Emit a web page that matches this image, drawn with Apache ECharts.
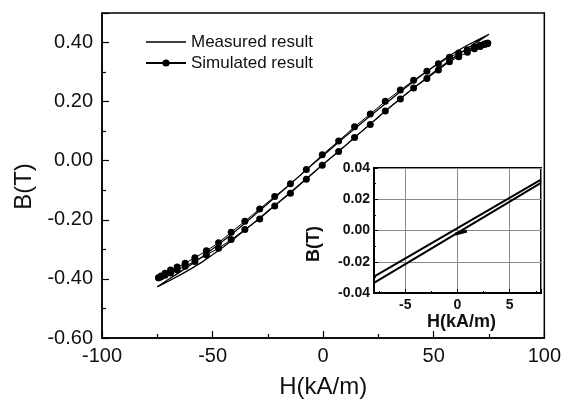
<!DOCTYPE html>
<html>
<head>
<meta charset="utf-8">
<script src="https://cdn.jsdelivr.net/npm/echarts@6/dist/echarts.min.js"></script>
<style>
  html, body { margin: 0; padding: 0; background: #fff; }
  #chart { width: 564px; height: 404px; }
</style>
</head>
<body>
<div id="chart"></div>
<script>
// main loop: measured (line only)
const measH = [-75, -70, -65, -60, -55, -50, -45, -40, -35, -30, -25, -20, -15, -10, -5, 0,
  5, 10, 15, 20, 25, 30, 35, 40, 45, 50, 55, 60, 65, 70, 75];
const measLow = [-0.427, -0.408, -0.388, -0.367, -0.344, -0.318, -0.291, -0.262, -0.232, -0.202,
  -0.170, -0.140, -0.108, -0.076, -0.044, -0.012, 0.019, 0.051, 0.084, 0.116, 0.148, 0.180,
  0.211, 0.241, 0.270, 0.299, 0.327, 0.354, 0.379, 0.404, 0.428];
const measUp = [-0.427, -0.402, -0.378, -0.353, -0.327, -0.299, -0.270, -0.240, -0.209, -0.177,
  -0.145, -0.113, -0.080, -0.047, -0.014, 0.018, 0.050, 0.082, 0.113, 0.144, 0.174, 0.204,
  0.234, 0.263, 0.292, 0.319, 0.345, 0.369, 0.390, 0.409, 0.428];

// main loop: simulated (line + dots)
const simH = [-74.4, -73.3, -71.5, -69.0, -66.0, -62.4, -58.0, -52.8, -47.3, -41.6, -35.4, -28.7,
  -21.9, -14.8, -7.6, -0.4, 7.0, 14.2, 21.3, 28.1, 34.9, 40.9, 46.9, 52.1, 57.1, 61.3, 65.2,
  68.4, 71.0, 72.9, 74.0, 74.4];
const simLow = [-0.396, -0.393, -0.388, -0.380, -0.370, -0.357, -0.341, -0.319, -0.296, -0.267,
  -0.233, -0.197, -0.153, -0.110, -0.063, -0.015, 0.031, 0.079, 0.123, 0.168, 0.209, 0.246,
  0.278, 0.307, 0.335, 0.352, 0.367, 0.379, 0.387, 0.393, 0.396, 0.398];
const simUp = [-0.396, -0.390, -0.381, -0.370, -0.360, -0.347, -0.328, -0.305, -0.278, -0.242,
  -0.205, -0.163, -0.121, -0.078, -0.030, 0.020, 0.067, 0.115, 0.158, 0.201, 0.239, 0.272,
  0.303, 0.328, 0.350, 0.365, 0.376, 0.386, 0.391, 0.395, 0.397, 0.398];

// inset (zoom around origin): two nearly parallel branches
const insetH = [-8, 0, 8];
const insetUp = [-0.0295, 0.0015, 0.0325];
const insetLow = [-0.0335, -0.0015, 0.0305];
const markH = [-0.2, 0.9];
const markB = [-0.0022, -0.0004];

const xTicks = [-100, -50, 0, 50, 100];
const yTicks = [-0.6, -0.4, -0.2, 0, 0.2, 0.4];

const FONT = "'Liberation Sans', Arial, sans-serif";
const INK = "#111";

const pairs = (xs, ys) => xs.map((x, i) => [x, ys[i]]);
// closed loop: ascending branch, then descending branch back
const loop = (xs, low, up) => pairs(xs, low).concat(pairs(xs, up).reverse());

const chart = echarts.init(document.getElementById("chart"));

const axisBase = {
  type: "value",
  splitLine: { show: false },
};

const option = {
  animation: false,
  backgroundColor: "#fff",
  textStyle: { fontFamily: FONT, color: INK },
  legend: {
    left: 145,
    top: 33,
    padding: 0,
    orient: "vertical",
    selectedMode: false,
    itemWidth: 40,
    itemHeight: 9,
    itemGap: 3,
    symbolKeepAspect: true,
    data: [
      { name: "Measured result", icon: "path://M0 0H40V1.3H0Z" },
      { name: "Simulated result" },
    ],
    textStyle: { fontFamily: FONT, fontSize: 17, color: INK, lineHeight: 18 },
  },
  grid: [
    {
      left: 102, top: 13, right: 19, bottom: 62,
      show: true, borderColor: "#000", borderWidth: 1.5, backgroundColor: "#fff",
    },
    {
      left: 374, top: 168, right: 23, bottom: 111,
      show: true, borderColor: "#000", borderWidth: 2, backgroundColor: "#fff",
    },
  ],
  xAxis: [
    {
      ...axisBase,
      gridIndex: 0,
      min: xTicks[0],
      max: xTicks[xTicks.length - 1],
      interval: 50,
      name: "H(kA/m)",
      nameLocation: "middle",
      nameGap: 37,
      nameTextStyle: { fontFamily: FONT, fontSize: 24, color: INK },
      axisLine: { show: true, onZero: false, lineStyle: { color: "#000", width: 1.5 } },
      axisTick: { inside: true, length: 7, lineStyle: { color: "#000", width: 1.2 } },
      minorTick: { show: true, splitNumber: 2, length: 4, lineStyle: { color: "#000", width: 1.2 } },
      axisLabel: { fontFamily: FONT, fontSize: 20, color: INK, margin: 8 },
    },
    {
      ...axisBase,
      gridIndex: 1,
      min: -8,
      max: 8,
      splitNumber: 3,
      name: "H(kA/m)",
      nameLocation: "middle",
      nameGap: 20,
      nameTextStyle: {
        fontFamily: FONT, fontSize: 18, fontWeight: "bold", color: INK, padding: [0, 0, 0, 8],
      },
      axisLine: { show: true, onZero: false, lineStyle: { color: "#000", width: 2 } },
      axisTick: { inside: true, length: 4, lineStyle: { color: "#000" } },
      minorTick: { show: true, splitNumber: 2, length: 2, lineStyle: { color: "#000" } },
      splitLine: { show: true, lineStyle: { color: "#888", width: 1 } },
      axisLabel: {
        fontFamily: FONT, fontSize: 14, fontWeight: "bold", color: INK, margin: 5,
        formatter: (v) => (v % 5 === 0 ? String(v) : ""),
      },
    },
  ],
  yAxis: [
    {
      ...axisBase,
      gridIndex: 0,
      min: yTicks[0],
      max: 0.5,
      interval: 0.2,
      name: "B(T)",
      nameLocation: "middle",
      nameGap: 60,
      nameTextStyle: { fontFamily: FONT, fontSize: 24, color: INK, padding: [0, 22, 0, 0] },
      axisLine: { show: true, onZero: false, lineStyle: { color: "#000", width: 1.5 } },
      axisTick: { inside: true, length: 7, lineStyle: { color: "#000", width: 1.2 } },
      minorTick: { show: true, splitNumber: 2, length: 4, lineStyle: { color: "#000", width: 1.2 } },
      axisLabel: {
        fontFamily: FONT, fontSize: 20, color: INK, margin: 9,
        showMaxLabel: false,
        formatter: (v) => (v > 0.45 ? "" : v.toFixed(2)),
      },
    },
    {
      ...axisBase,
      gridIndex: 1,
      min: -0.04,
      max: 0.04,
      interval: 0.02,
      name: "B(T)",
      nameLocation: "middle",
      nameGap: 51,
      nameTextStyle: {
        fontFamily: FONT, fontSize: 18, fontWeight: "bold", color: INK, padding: [0, 27, 0, 0],
      },
      axisLine: { show: true, onZero: false, lineStyle: { color: "#000", width: 2 } },
      axisTick: { inside: true, length: 4, lineStyle: { color: "#000" } },
      minorTick: { show: true, splitNumber: 2, length: 2, lineStyle: { color: "#000" } },
      splitLine: { show: true, lineStyle: { color: "#888", width: 1 } },
      axisLabel: {
        fontFamily: FONT, fontSize: 14, fontWeight: "bold", color: INK, margin: 4,
        formatter: (v) => v.toFixed(2),
      },
    },
  ],
  series: [
    {
      name: "Measured result",
      type: "line",
      xAxisIndex: 0,
      yAxisIndex: 0,
      data: loop(measH, measLow, measUp),
      symbol: "none",
      lineStyle: { color: "#000", width: 1.3 },
      itemStyle: { color: "#000" },
    },
    {
      name: "Simulated result",
      type: "line",
      xAxisIndex: 0,
      yAxisIndex: 0,
      data: loop(simH, simLow, simUp),
      symbol: "circle",
      symbolSize: 7,
      showAllSymbol: true,
      lineStyle: { color: "#000", width: 1 },
      itemStyle: { color: "#000" },
    },
    {
      type: "line",
      xAxisIndex: 1,
      yAxisIndex: 1,
      data: pairs(insetH, insetUp),
      symbol: "none",
      lineStyle: { color: "#000", width: 2 },
      z: 5,
    },
    {
      type: "line",
      xAxisIndex: 1,
      yAxisIndex: 1,
      data: pairs(insetH, insetLow),
      symbol: "none",
      lineStyle: { color: "#000", width: 2 },
      z: 5,
    },
    {
      type: "line",
      xAxisIndex: 1,
      yAxisIndex: 1,
      data: pairs(markH, markB),
      symbol: "none",
      lineStyle: { color: "#000", width: 3 },
      z: 5,
    },
  ],
};

chart.setOption(option);
</script>
</body>
</html>
